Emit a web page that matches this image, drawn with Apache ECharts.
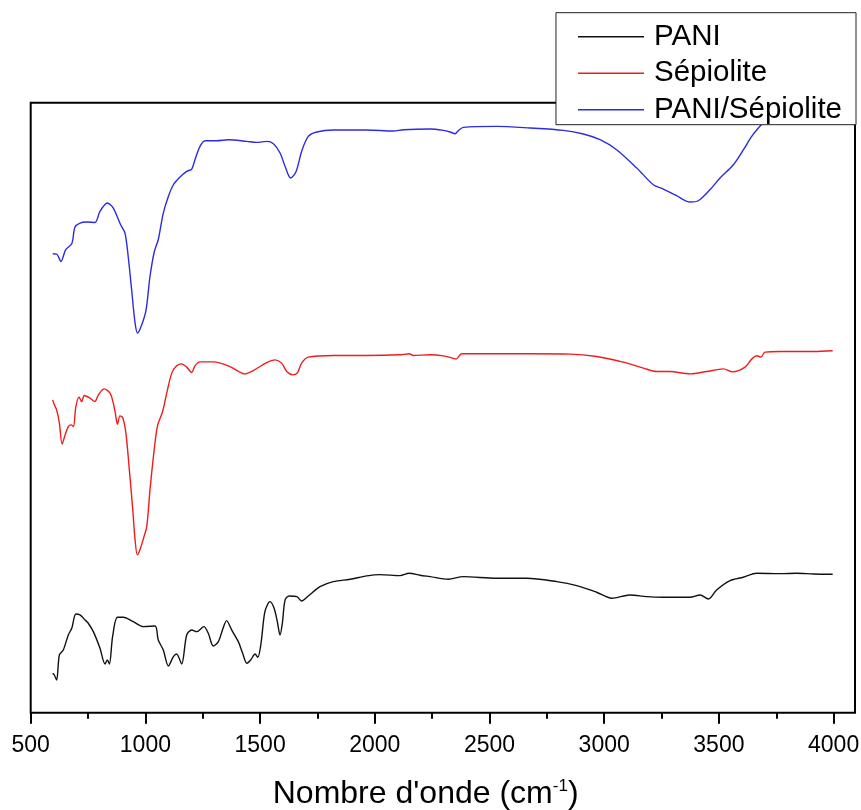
<!DOCTYPE html>
<html>
<head>
<meta charset="utf-8">
<title>FTIR PANI / Sépiolite</title>
<script src="https://cdn.jsdelivr.net/npm/echarts@6/dist/echarts.min.js"></script>
<style>
  html, body { margin: 0; padding: 0; background: #fff; }
  #chart { width: 861px; height: 810px; }
</style>
</head>
<body>
<div id="chart"></div>
<script>
// nombre d'onde (cm-1) et transmittance (unités arbitraires, décalées)
var paniX = [596, 603, 613, 625, 642, 664, 679, 697, 715, 737, 751, 773, 802, 824, 834, 843, 857, 878, 904, 947, 991, 1042, 1056, 1078, 1100, 1122, 1136, 1158, 1180, 1202, 1224, 1255, 1274, 1296, 1318, 1337, 1354, 1376, 1405, 1424, 1442, 1459, 1478, 1490, 1504, 1521, 1543, 1561, 1575, 1587, 1597, 1609, 1627, 1660, 1681, 1710, 1761, 1819, 1892, 1965, 2023, 2110, 2150, 2197, 2241, 2320, 2386, 2531, 2662, 2793, 2880, 2967, 3033, 3112, 3185, 3258, 3374, 3418, 3454, 3490, 3549, 3606, 3665, 3767, 3839, 3912, 3996];
var paniY = [39.4, 37.7, 32.7, 57.7, 62.7, 77.7, 84.4, 98.7, 97.7, 92.7, 89.4, 81, 64.4, 48.7, 52.7, 48.7, 76, 95.4, 95.4, 91, 86, 86.7, 72.7, 62.7, 46.7, 56, 58.7, 48.7, 77.7, 82.7, 81, 86, 79.4, 66.7, 71, 83.4, 92, 82.7, 71, 59.4, 49.4, 52.7, 58.7, 55.4, 69.4, 101, 111, 104.4, 91, 77.7, 89.4, 112.7, 116.7, 116, 111.7, 116.7, 126, 131, 133.4, 136.7, 138, 137, 139.4, 137.4, 136, 133.4, 136, 134.4, 134.4, 131, 127, 120.4, 114.4, 117.7, 116, 115.4, 115.4, 117.7, 113.7, 122.7, 132, 135.4, 139.4, 139, 139.4, 138.7, 138.4];

var sepX = [596, 603, 613, 625, 637, 650, 664, 676, 686, 697, 711, 722, 734, 758, 780, 795, 820, 846, 860, 869, 878, 889, 901, 915, 930, 945, 955, 965, 976, 994, 1006, 1020, 1035, 1052, 1075, 1093, 1115, 1136, 1158, 1180, 1202, 1216, 1238, 1296, 1369, 1434, 1470, 1529, 1565, 1594, 1616, 1642, 1662, 1681, 1710, 1819, 1965, 2110, 2150, 2168, 2241, 2299, 2335, 2354, 2379, 2531, 2677, 2851, 2967, 3083, 3171, 3229, 3287, 3374, 3447, 3519, 3560, 3614, 3643, 3665, 3684, 3701, 3767, 3839, 3912, 3996];
var sepY = [312.7, 307.7, 302.7, 289.4, 268.4, 277.7, 286, 287.7, 286, 306, 315.4, 311, 317, 314.4, 311, 317.7, 323.7, 319.4, 309.4, 299.4, 288.4, 296.7, 295, 279.4, 242.7, 202.7, 172.7, 157.7, 162.7, 176, 186, 222.7, 256, 286, 301, 319.4, 339.4, 346.7, 348.7, 345.4, 340, 346.7, 350.7, 350.7, 346, 338.7, 342, 350, 352.7, 349.4, 341, 337.7, 339.4, 349.4, 355.4, 357, 357, 357.7, 358.7, 357, 357.7, 356.7, 354.7, 353.4, 358.7, 358.7, 358.7, 358.4, 356, 350.4, 344.4, 341, 341, 338.7, 341, 343.7, 340.7, 345.4, 353.4, 356.7, 355.4, 360.4, 361, 361, 361, 361.7];

var compX = [596, 613, 632, 652, 679, 693, 715, 744, 780, 802, 834, 860, 892, 911, 925, 940, 955, 966, 984, 1003, 1020, 1039, 1056, 1078, 1100, 1122, 1151, 1180, 1202, 1216, 1238, 1260, 1311, 1361, 1442, 1485, 1529, 1558, 1587, 1609, 1633, 1657, 1681, 1710, 1747, 1819, 1965, 2081, 2124, 2241, 2299, 2328, 2350, 2364, 2386, 2531, 2677, 2822, 2909, 2982, 3054, 3142, 3214, 3258, 3316, 3374, 3410, 3461, 3505, 3563, 3607, 3643, 3672, 3694, 3720, 3800, 4000];
var compY = [458.7, 458.4, 451, 462.7, 468.7, 485.4, 489.4, 490.4, 490, 501, 509.4, 504.4, 487.7, 479.4, 456, 422.7, 389.4, 379.4, 387.7, 402.7, 436, 461, 472.7, 499.4, 516, 527.7, 535.4, 541, 543.4, 552.7, 566, 571.7, 571.7, 572.7, 571, 570, 571, 568.7, 559.4, 546, 534.4, 541, 561, 576, 580.4, 582.4, 582.4, 581.4, 582.7, 583.4, 582, 580.4, 578.7, 581.7, 585, 586, 584.4, 582, 578.4, 572.7, 562.7, 544.4, 527.7, 523.4, 516.7, 510.4, 511.7, 522.7, 534.4, 547.7, 562.7, 576, 584.4, 589.4, 595, 597, 598];

var seriesNames = ['PANI', 'Sépiolite', 'PANI/Sépiolite'];
var seriesColors = ['#111111', '#f01c1c', '#2b2be0'];
var xTicks = { min: 500, max: 4000, step: 500 };

function pairs(xs, ys) {
    return xs.map(function (x, i) { return [x, ys[i]]; });
}

var font = '"Liberation Sans", Arial, sans-serif';
var myChart = echarts.init(document.getElementById('chart'), null, { renderer: 'canvas' });

var allX = [paniX, sepX, compX];
var allY = [paniY, sepY, compY];

var options = {
    backgroundColor: '#fff',
    animation: false,
    // grille 0 : cadre, grille 1 : données
    grid: [
        { left: 30.7, right: 6, top: 102.7, bottom: 97.3, outerBoundsMode: 'none', containLabel: false,
          show: true, borderColor: '#000', borderWidth: 2, backgroundColor: 'transparent', z: 3 },
        { left: 30.7, right: 27.4, top: 102.7, bottom: 97.3, outerBoundsMode: 'none', containLabel: false }
    ],
    legend: {
        data: seriesNames,
        right: 5,
        top: 12.7,
        orient: 'vertical',
        align: 'left',
        backgroundColor: '#fff',
        borderColor: '#222',
        borderWidth: 1,
        padding: [9, 14, 0, 22],
        icon: 'rect',
        itemWidth: 66,
        itemHeight: 1.4,
        itemGap: 6.5,
        textStyle: { fontSize: 29.5, fontFamily: font, color: '#000', lineHeight: 29.5, padding: [0, 0, 0, 5] },
        z: 10
    },
    xAxis: [
        { gridIndex: 0, type: 'value', min: 0, max: 1, show: false },
        {
            gridIndex: 1,
            type: 'value',
            min: xTicks.min,
            max: xTicks.max,
            interval: xTicks.step,
            axisLine: { show: false },
            axisTick: { show: true, length: 11, lineStyle: { color: '#000', width: 2 } },
            minorTick: { show: true, splitNumber: 2, length: 6, lineStyle: { color: '#000', width: 2 } },
            splitLine: { show: false },
            axisLabel: {
                fontSize: 23, fontFamily: font, color: '#000', margin: 21,
                formatter: function (v) { return String(v); }
            },
            name: 'Nombre d\'onde (cm{sup|-1})',
            nameLocation: 'middle',
            nameGap: 65,
            nameTextStyle: {
                fontSize: 32, fontFamily: font, color: '#000', padding: [0, 13, 0, 0],
                rich: { sup: { fontSize: 17, fontFamily: font, color: '#000', verticalAlign: 'top', lineHeight: 17 } }
            }
        }
    ],
    yAxis: [
        { gridIndex: 0, type: 'value', min: 0, max: 1, show: false },
        { gridIndex: 1, type: 'value', min: 0, max: 609.7, show: false }
    ],
    series: seriesNames.map(function (name, i) {
        return {
            name: name,
            type: 'line',
            xAxisIndex: 1,
            yAxisIndex: 1,
            data: pairs(allX[i], allY[i]),
            symbol: 'none',
            smooth: 0.3,
            lineStyle: { color: seriesColors[i], width: 1.4 },
            itemStyle: { color: seriesColors[i] }
        };
    })
};

myChart.setOption(options);
</script>
</body>
</html>
